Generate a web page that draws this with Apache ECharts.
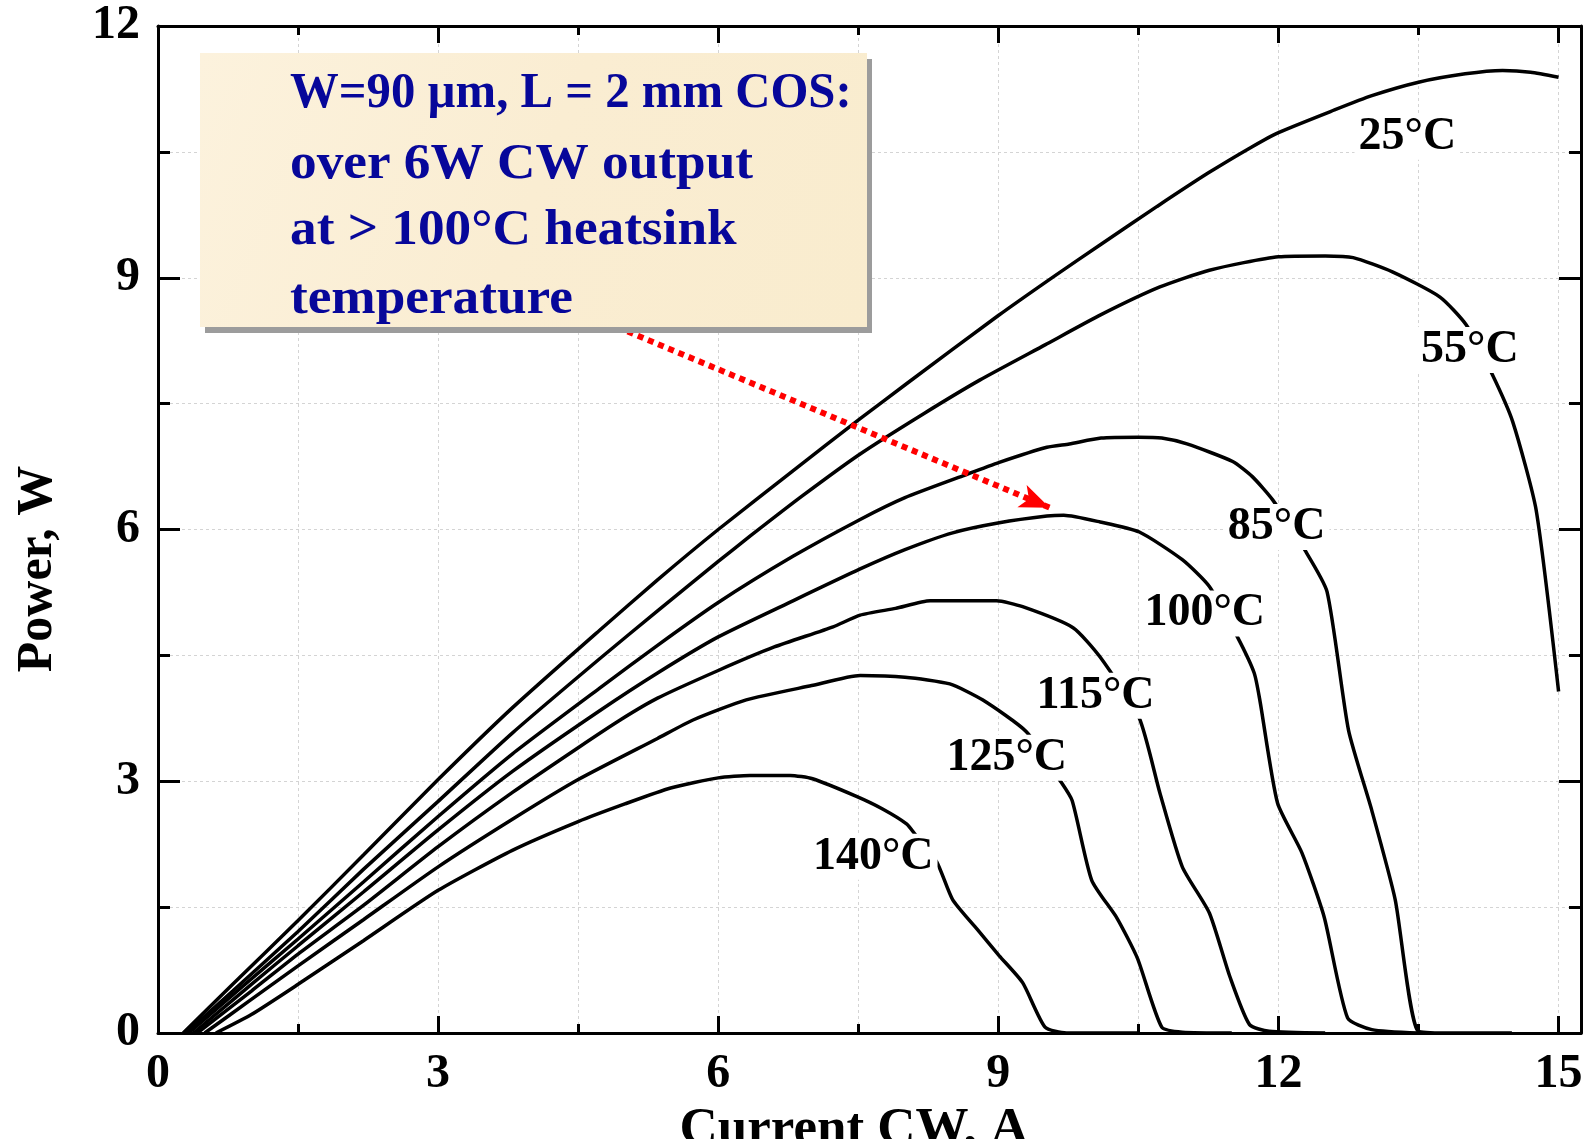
<!DOCTYPE html>
<html>
<head>
<meta charset="utf-8">
<script src="https://cdn.jsdelivr.net/npm/echarts@6/dist/echarts.min.js"></script>
<style>
  html, body { margin: 0; padding: 0; background: #fff; }
  #chart { width: 1594px; height: 1139px; }
</style>
</head>
<body>
<div id="chart"></div>
<script>
  // CW output power (W) vs current (A), one pair of arrays per heatsink temperature
  const cur25 = [0.27, 0.8, 1.5, 2.2, 3.0, 3.8, 4.73, 5.35, 6.0, 6.8, 7.52, 8.02, 9.0, 9.6, 10.1, 10.7, 11.25, 11.7, 12.0, 12.6, 13.0, 13.5, 14.0, 14.4, 14.7, 15.0];
  const pow25 = [0, 0.58, 1.34, 2.12, 3.02, 3.88, 4.8, 5.4, 6.0, 6.7, 7.32, 7.74, 8.55, 9.02, 9.4, 9.85, 10.25, 10.55, 10.73, 11.0, 11.17, 11.33, 11.43, 11.47, 11.45, 11.39];

  const cur55 = [0.3, 0.8, 1.5, 2.2, 3.0, 3.8, 4.73, 5.35, 6.0, 6.34, 6.9, 7.52, 8.2, 8.8, 9.5, 10.1, 10.73, 11.26, 12.0, 12.5, 12.8, 13.22, 13.73, 14.01, 14.28, 14.51, 14.76, 15.0];
  const pow55 = [0, 0.5, 1.21, 1.95, 2.76, 3.58, 4.46, 5.03, 5.62, 5.92, 6.4, 6.9, 7.38, 7.78, 8.2, 8.56, 8.89, 9.09, 9.25, 9.26, 9.24, 9.07, 8.77, 8.44, 7.87, 7.28, 6.23, 4.07];

  const cur85 = [0.33, 0.9, 1.5, 2.2, 3.0, 3.8, 4.73, 5.35, 6.0, 6.8, 7.52, 8.0, 8.62, 9.01, 9.52, 9.76, 10.1, 10.5, 10.75, 11.02, 11.51, 11.72, 11.94, 12.28, 12.52, 12.75, 13.0, 13.25, 13.49, 13.8, 14.5];
  const pow85 = [0, 0.55, 1.12, 1.8, 2.58, 3.33, 4.11, 4.62, 5.13, 5.68, 6.12, 6.38, 6.64, 6.8, 6.98, 7.02, 7.09, 7.1, 7.09, 7.02, 6.81, 6.63, 6.35, 5.76, 5.26, 3.61, 2.65, 1.59, 0.03, 0, 0];

  const cur100 = [0.38, 1.0, 1.5, 2.2, 3.0, 3.8, 4.73, 5.35, 6.0, 6.8, 7.52, 8.0, 8.51, 9.01, 9.52, 9.7, 10.09, 10.51, 10.97, 11.26, 11.56, 11.74, 11.8, 11.99, 12.25, 12.49, 12.74, 13.0, 13.5];
  const pow100 = [0, 0.58, 1.04, 1.68, 2.42, 3.12, 3.84, 4.29, 4.72, 5.15, 5.53, 5.76, 5.96, 6.08, 6.16, 6.17, 6.09, 5.97, 5.64, 5.32, 4.72, 4.29, 3.97, 2.74, 2.15, 1.38, 0.18, 0.04, 0];

  const cur115 = [0.42, 1.0, 1.5, 2.2, 3.0, 3.8, 4.5, 4.95, 5.35, 6.0, 6.6, 7.23, 7.52, 7.9, 8.27, 8.98, 9.26, 9.8, 10.09, 10.51, 10.73, 10.97, 11.26, 11.48, 11.69, 11.9, 12.5];
  const pow115 = [0, 0.5, 0.94, 1.52, 2.22, 2.87, 3.4, 3.73, 3.99, 4.32, 4.6, 4.84, 4.98, 5.06, 5.15, 5.15, 5.08, 4.83, 4.48, 3.75, 2.86, 1.98, 1.43, 0.67, 0.1, 0.02, 0];

  const cur125 = [0.5, 1.0, 1.5, 2.2, 3.0, 3.8, 4.5, 5.35, 5.73, 6.3, 7.0, 7.52, 8.0, 8.48, 8.83, 9.3, 9.66, 9.79, 10.0, 10.27, 10.49, 10.75, 10.97, 11.5];
  const pow125 = [0, 0.4, 0.8, 1.35, 1.98, 2.55, 3.02, 3.51, 3.73, 3.97, 4.14, 4.26, 4.24, 4.16, 3.97, 3.59, 3.01, 2.77, 1.82, 1.37, 0.89, 0.07, 0.01, 0];

  const cur140 = [0.62, 1.0, 1.5, 2.2, 3.0, 3.8, 4.5, 5.0, 5.49, 6.0, 6.34, 6.77, 7.01, 7.48, 7.76, 8.02, 8.1, 8.34, 8.51, 8.77, 9.01, 9.26, 9.5, 9.73, 10.5];
  const pow140 = [0, 0.22, 0.58, 1.1, 1.7, 2.18, 2.52, 2.73, 2.92, 3.04, 3.07, 3.07, 3.03, 2.82, 2.67, 2.49, 2.38, 2.04, 1.59, 1.24, 0.92, 0.6, 0.07, 0, 0];

  // curve labels, placed in data units
  const labelText = ['25°C', '55°C', '85°C', '100°C', '115°C', '125°C', '140°C'];
  const labelCur = [13.38, 14.05, 11.98, 11.21, 10.04, 9.09, 7.66];
  const labelPow = [10.68, 8.14, 6.03, 5.0, 4.02, 3.28, 2.1];

  // red dotted arrow from the note to the 100°C peak
  const arrowFrom = [5.03, 8.36];
  const arrowTo = [9.55, 6.26];

  const xTickLabels = [0, 3, 6, 9, 12, 15];
  const yTickLabels = [0, 3, 6, 9, 12];

  const noteLines = [
    'W=90 µm, L = 2 mm COS:',
    'over 6W CW output',
    'at > 100°C heatsink',
    'temperature'
  ];

  const FONT = '"Liberation Serif", "Times New Roman", Times, serif';
  const X_MAX = 15.24;

  const curves = [
    [cur25, pow25], [cur55, pow55], [cur85, pow85], [cur100, pow100],
    [cur115, pow115], [cur125, pow125], [cur140, pow140]
  ];

  const gridLine = { color: '#d4d4d4', width: 1, type: [3, 3] };
  const blackLine = { color: '#000', width: 3 };

  function xAxisDef(position, interval, tickLen, withLine, withLabels) {
    return {
      type: 'value', min: 0, max: X_MAX, interval: interval, position: position,
      axisLine: { show: withLine, onZero: false, lineStyle: blackLine },
      axisTick: { show: true, inside: true, length: tickLen, lineStyle: blackLine },
      axisLabel: withLabels ? {
        show: true, margin: 18, color: '#000', fontSize: 48, fontWeight: 'bold', fontFamily: FONT,
        formatter: v => xTickLabels.indexOf(v) >= 0 ? String(v) : ''
      } : { show: false },
      splitLine: { show: withLine && position === 'bottom', lineStyle: gridLine }
    };
  }

  const xAxes = [
    xAxisDef('bottom', 1.5, 9, true, false),
    xAxisDef('bottom', 3, 17, false, true),
    xAxisDef('top', 1.5, 9, true, false),
    xAxisDef('top', 3, 17, false, false)
  ];
  Object.assign(xAxes[1], {
    name: 'Current CW, A', nameLocation: 'middle', nameGap: 66,
    nameTextStyle: { color: '#000', fontSize: 53, fontWeight: 'bold', fontFamily: FONT, padding: [0, 31, 0, 0] }
  });

  function yAxisDef(position, withLabels) {
    return {
      type: 'value', min: 0, max: 12, interval: 3, position: position,
      axisLine: { show: true, onZero: false, lineStyle: blackLine },
      axisTick: { show: true, inside: true, length: 22, lineStyle: blackLine },
      minorTick: { show: true, splitNumber: 2, length: 12, lineStyle: blackLine },
      splitLine: { show: withLabels, lineStyle: gridLine },
      minorSplitLine: { show: withLabels, lineStyle: gridLine },
      axisLabel: withLabels ? {
        show: true, margin: 18, color: '#000', fontSize: 48, fontWeight: 'bold', fontFamily: FONT,
        formatter: v => yTickLabels.indexOf(v) >= 0 ? String(v) : ''
      } : { show: false }
    };
  }

  const yAxes = [yAxisDef('left', true), yAxisDef('right', false)];
  Object.assign(yAxes[0], {
    name: 'Power, W', nameLocation: 'middle', nameGap: 95, nameRotate: 90,
    nameTextStyle: { color: '#000', fontSize: 50, fontWeight: 'bold', fontFamily: FONT, padding: [0, 79, 0, 0] }
  });

  const series = curves.map(([xs, ys], i) => ({
    name: labelText[i],
    type: 'line',
    xAxisIndex: 0, yAxisIndex: 0,
    data: xs.map((x, k) => [x, ys[k]]),
    showSymbol: false,
    smooth: 0.2,
    lineStyle: { color: '#000', width: 3.5 },
    z: 2
  }));

  // the arrow lives on the 100°C series
  series[3].markLine = {
    silent: true,
    symbol: ['none', 'arrow'],
    symbolSize: [18, 30],
    label: { show: false },
    lineStyle: { color: '#ff0000', width: 6, type: [6, 5], opacity: 1 },
    emphasis: { disabled: true },
    data: [[{ coord: arrowFrom }, { coord: arrowTo }]]
  };

  series.push({
    type: 'scatter',
    xAxisIndex: 0, yAxisIndex: 0,
    data: labelText.map((t, i) => [labelCur[i], labelPow[i], t]),
    symbolSize: 0,
    itemStyle: { opacity: 1 },
    z: 6,
    label: {
      show: true, position: 'inside', formatter: p => p.value[2],
      color: '#000', fontSize: 46, fontWeight: 'bold', fontFamily: FONT,
      backgroundColor: '#fff', padding: [0, 4]
    }
  });

  const noteX = 290;
  const noteY = [94.5, 165.5, 231.5, 300.5];
  const noteScale = [0.975, 1.065, 1.065, 1.065];

  const graphic = [
    { type: 'rect', shape: { x: 205, y: 59, width: 667, height: 274 }, style: { fill: '#9c9c9c' }, z: 100 },
    {
      type: 'rect', shape: { x: 200, y: 53, width: 667, height: 274 },
      style: {
        fill: new echarts.graphic.LinearGradient(0, 0, 1, 1, [
          { offset: 0, color: '#fcf2dd' }, { offset: 0.5, color: '#faedd2' }, { offset: 1, color: '#f9ecce' }
        ])
      },
      z: 101
    }
  ].concat(noteLines.map((t, i) => ({
    type: 'text', x: noteX, y: noteY[i], scaleX: noteScale[i], z: 102,
    style: {
      text: t, x: 0, y: 0, fill: '#07079a',
      font: 'bold 50px ' + FONT,
      textAlign: 'left', align: 'left', textVerticalAlign: 'middle', verticalAlign: 'middle'
    }
  })));

  const chart = echarts.init(document.getElementById('chart'));
  chart.setOption({
    animation: false,
    backgroundColor: '#fff',
    grid: { left: 158, top: 26, width: 1423, height: 1007, containLabel: false, outerBoundsMode: 'none' },
    xAxis: xAxes,
    yAxis: yAxes,
    series: series,
    graphic: graphic
  });
</script>
</body>
</html>
